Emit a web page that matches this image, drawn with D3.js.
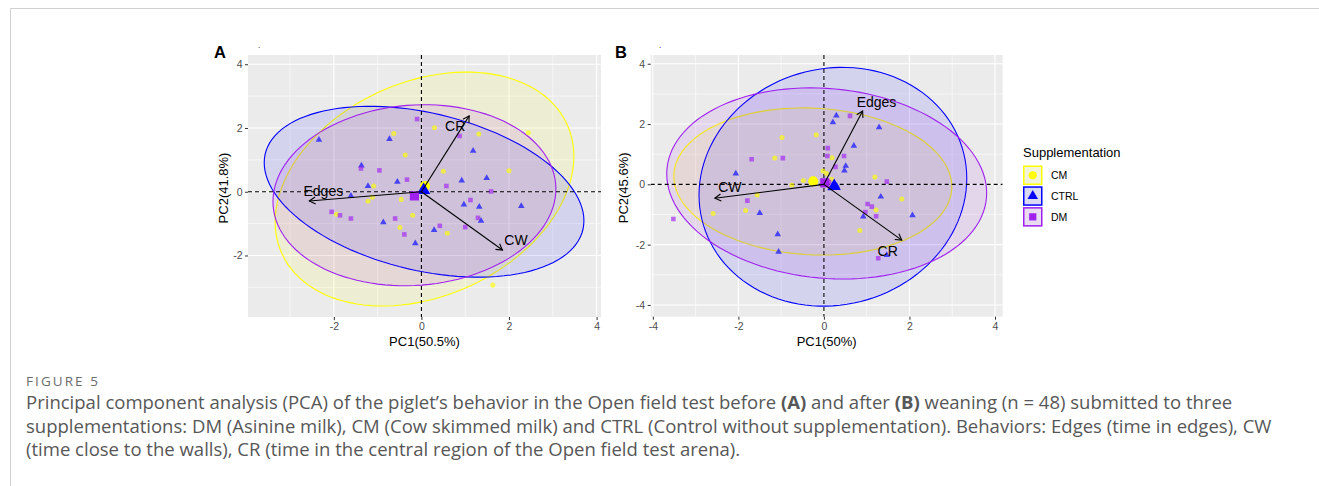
<!DOCTYPE html>
<html>
<head>
<meta charset="utf-8">
<script src="https://cdn.jsdelivr.net/npm/d3@7"></script>
<style>
  body { margin: 0; background: #fff; }
  svg text { font-family: "Liberation Sans", Arial, sans-serif; }
</style>
</head>
<body>
<svg id="fig" width="1319" height="486"></svg>
<script>
// groups in legend order
const groups = ["CM", "CTRL", "DM"];

// panel A (before weaning) scores, [PC1, PC2]
const pointsA_CM = [[-0.63,1.83],[0.30,2.01],[1.31,1.81],[2.44,1.85],[-0.37,1.15],[0.50,0.64],[2.00,0.66],[-1.09,0.18],
  [-1.12,-0.17],[-1.22,-0.30],[-0.46,-0.24],[-1.94,-0.71],[-0.20,-0.74],[-0.49,-1.12],[0.59,-1.30],[1.63,-2.93]];
const pointsA_CTRL = [[-2.34,1.63],[-0.73,1.65],[-1.37,0.82],[-1.22,0.18],[-0.55,0.31],[-1.61,-0.13],[1.18,1.28],[0.92,0.35],
  [1.49,0.43],[0.97,-0.40],[1.32,-0.47],[1.36,-0.91],[2.28,-0.45],[-0.87,-0.96],[0.29,-1.20],[-0.14,-1.62]];
const pointsA_DM = [[-0.10,2.28],[0.87,1.75],[-0.96,0.67],[-0.33,0.38],[-1.38,0.73],[0.57,0.18],[1.59,0.01],[1.12,-0.26],
  [-2.05,-0.63],[-1.86,-0.74],[-1.61,-0.84],[-0.60,-0.84],[-0.39,-1.34],[0.42,-1.07],[1.00,-1.11],[1.29,-0.82]];
const centroidsA = [[0.08,0.18],[0.05,0.05],[-0.16,-0.13]];
// ellipse: [centre x, centre y, half width, half height, correlation]
const ellipsesA = [[0.07,0.085,3.41,3.67,0.28],[0.06,0.0,3.65,2.68,-0.34],[-0.16,-0.11,3.23,2.84,0.07]];
const loadingNamesA = ["Edges", "CR", "CW"];
const loadingsA = [[-2.56,-0.29],[1.09,2.38],[1.85,-1.83]];
const loadingLabelsA = [[-2.24,0.02],[0.77,2.06],[2.16,-1.52]];

// panel B (after weaning)
const pointsB_CM = [[-0.98,1.55],[-0.18,1.64],[-1.15,0.87],[0.19,0.88],[-0.02,0.44],[0.06,0.36],[-0.48,0.13],[-0.75,-0.02],
  [0.18,0.17],[1.19,0.24],[1.82,-0.49],[-1.56,-0.35],[-1.83,-0.87],[-2.59,-0.97],[1.22,-0.85],[0.84,-1.53]];
const pointsB_CTRL = [[0.29,2.28],[0.21,2.06],[1.29,1.89],[0.70,1.28],[0.51,0.61],[0.48,0.46],[-2.06,0.36],[1.33,-0.41],
  [2.07,-1.03],[0.92,-1.07],[-1.50,-0.95],[-1.08,-1.66],[-1.06,-2.24],[1.47,-2.35],[0.16,-0.13],[0.30,-0.05]];
const pointsB_DM = [[0.61,2.27],[0.09,1.20],[0.08,0.94],[0.47,0.94],[0.27,0.58],[-1.69,0.83],[-0.96,0.87],[1.47,0.09],
  [-1.79,-0.54],[-3.52,-1.15],[1.02,-0.65],[1.12,-0.74],[0.97,-0.92],[1.22,-1.06],[1.27,-2.45],[0.12,0.08]];
const centroidsB = [[-0.25,0.10],[0.24,-0.06],[0.02,0.05]];
const ellipsesB = [[-0.26,0.095,3.25,2.44,-0.07],[0.21,-0.08,3.13,3.96,0.07],[0.065,0.03,3.74,3.17,-0.10]];
const loadingNamesB = ["Edges", "CW", "CR"];
const loadingsB = [[0.905,2.43],[-2.55,-0.46],[1.82,-1.85]];
const loadingLabelsB = [[1.23,2.74],[-2.2,-0.1],[1.49,-2.21]];

const ticksA_x = [-2, 0, 2, 4], ticksA_y = [-2, 0, 2, 4];
const ticksB_x = [-4, -2, 0, 2, 4], ticksB_y = [-4, -2, 0, 2, 4];

const colour = { CM: "#FFFF00", CTRL: "#0000FF", DM: "#A020F0" };
const shape = { CM: d3.symbolCircle, CTRL: d3.symbolTriangle, DM: d3.symbolSquare };
const ptSize = { CM: 20, CTRL: 19, DM: 21 };

const svg = d3.select("#fig");

// page frame
svg.append("path").attr("d", "M10.5,486V8.5H1319").attr("fill", "none").attr("stroke", "#d0d0d0").attr("stroke-width", 1);

function drawPanel(opt) {
  const x = d3.scaleLinear().domain(opt.xdom).range([opt.left, opt.right]);
  const y = d3.scaleLinear().domain(opt.ydom).range([opt.bottom, opt.top]);
  const g = svg.append("g");

  g.append("rect").attr("x", opt.left).attr("y", opt.top)
    .attr("width", opt.right - opt.left).attr("height", opt.bottom - opt.top).attr("fill", "#EBEBEB");

  const minorX = d3.range(-3, 4, 2).filter(v => v > opt.xdom[0] && v < opt.xdom[1]);
  const minorY = d3.range(-3, 4, 2).filter(v => v > opt.ydom[0] && v < opt.ydom[1]);
  g.selectAll(".mx").data(minorX).enter().append("line")
    .attr("x1", d => x(d)).attr("x2", d => x(d)).attr("y1", opt.top).attr("y2", opt.bottom)
    .attr("stroke", "#fff").attr("stroke-width", 0.55);
  g.selectAll(".my").data(minorY).enter().append("line")
    .attr("y1", d => y(d)).attr("y2", d => y(d)).attr("x1", opt.left).attr("x2", opt.right)
    .attr("stroke", "#fff").attr("stroke-width", 0.55);
  g.selectAll(".gx").data(opt.xt).enter().append("line")
    .attr("x1", d => x(d)).attr("x2", d => x(d)).attr("y1", opt.top).attr("y2", opt.bottom)
    .attr("stroke", "#fff").attr("stroke-width", 1.1);
  g.selectAll(".gy").data(opt.yt).enter().append("line")
    .attr("y1", d => y(d)).attr("y2", d => y(d)).attr("x1", opt.left).attr("x2", opt.right)
    .attr("stroke", "#fff").attr("stroke-width", 1.1);

  const clipId = "clip" + opt.name;
  svg.append("clipPath").attr("id", clipId).append("rect")
    .attr("x", opt.left).attr("y", opt.top).attr("width", opt.right - opt.left).attr("height", opt.bottom - opt.top);
  const inner = g.append("g").attr("clip-path", "url(#" + clipId + ")");

  // confidence ellipses
  const line = d3.line().x(d => x(d[0])).y(d => y(d[1]));
  opt.ellipses.forEach((e, i) => {
    const [cx, cy, a, b, r] = e;
    const pts = d3.range(0, 361, 3).map(t => {
      const th = t * Math.PI / 180;
      return [cx + a * Math.cos(th), cy + b * (r * Math.cos(th) + Math.sqrt(1 - r * r) * Math.sin(th))];
    });
    inner.append("path").attr("d", line(pts) + "Z")
      .attr("fill", colour[groups[i]]).attr("fill-opacity", 0.1)
      .attr("stroke", colour[groups[i]]).attr("stroke-width", 1.1);
  });

  // reference lines
  inner.append("line").attr("x1", x(0)).attr("x2", x(0)).attr("y1", opt.top).attr("y2", opt.bottom)
    .attr("stroke", "#000").attr("stroke-width", 1.1).attr("stroke-dasharray", "4,3");
  inner.append("line").attr("y1", y(0)).attr("y2", y(0)).attr("x1", opt.left).attr("x2", opt.right)
    .attr("stroke", "#000").attr("stroke-width", 1.1).attr("stroke-dasharray", "4,3");

  // scores
  opt.points.forEach((pts, i) => {
    const grp = groups[i];
    inner.selectAll(".p" + grp).data(pts).enter().append("path")
      .attr("d", d3.symbol().type(shape[grp]).size(ptSize[grp]))
      .attr("transform", d => "translate(" + x(d[0]) + "," + y(d[1]) + ")")
      .attr("fill", colour[grp]).attr("fill-opacity", 0.65);
  });
  opt.centroids.forEach((c, i) => {
    const grp = groups[i];
    inner.append("path")
      .attr("d", d3.symbol().type(shape[grp]).size(ptSize[grp] * 4))
      .attr("transform", "translate(" + x(c[0]) + "," + y(c[1]) + ")")
      .attr("fill", colour[grp]);
  });

  // loading arrows
  opt.loadings.forEach((l, i) => {
    const x0 = x(0), y0 = y(0), x1 = x(l[0]), y1 = y(l[1]);
    const ang = Math.atan2(y1 - y0, x1 - x0), h = 7, sp = Math.PI / 6;
    inner.append("line").attr("x1", x0).attr("y1", y0).attr("x2", x1).attr("y2", y1)
      .attr("stroke", "#000").attr("stroke-width", 1.1);
    inner.append("path")
      .attr("d", "M" + (x1 - h * Math.cos(ang - sp)) + "," + (y1 - h * Math.sin(ang - sp)) +
        "L" + x1 + "," + y1 + "L" + (x1 - h * Math.cos(ang + sp)) + "," + (y1 - h * Math.sin(ang + sp)))
      .attr("fill", "none").attr("stroke", "#000").attr("stroke-width", 1.1);
    inner.append("text").attr("x", x(opt.labels[i][0])).attr("y", y(opt.labels[i][1]))
      .attr("text-anchor", "middle").attr("dy", "0.36em").attr("font-size", 14).attr("fill", "#000")
      .text(opt.names[i]);
  });

  // axes
  const ax = g.append("g").attr("transform", "translate(0," + opt.bottom + ")")
    .call(d3.axisBottom(x).tickValues(opt.xt).tickSize(3).tickPadding(2.5).tickFormat(d3.format("d")));
  const ay = g.append("g").attr("transform", "translate(" + opt.left + ",0)")
    .call(d3.axisLeft(y).tickValues(opt.yt).tickSize(3).tickPadding(2.5).tickFormat(d3.format("d")));
  [ax, ay].forEach(a => {
    a.select(".domain").remove();
    a.selectAll(".tick line").attr("stroke", "#333").attr("stroke-width", 1);
    a.selectAll(".tick text").attr("fill", "#4D4D4D").attr("font-size", 10.5)
      .style("font-family", '"Liberation Sans", Arial, sans-serif');
  });
  ax.selectAll(".tick text").text(d => String(d).replace("\u2212", "-"));
  ay.selectAll(".tick text").text(d => String(d).replace("\u2212", "-"));

  g.append("text").attr("x", (opt.left + opt.right) / 2).attr("y", 346)
    .attr("text-anchor", "middle").attr("font-size", 13).attr("fill", "#000").text(opt.xlab);
  g.append("text").attr("transform", "translate(" + opt.ylabX + "," + ((opt.top + opt.bottom) / 2 + 2) + ") rotate(-90)")
    .attr("text-anchor", "middle").attr("font-size", 13).attr("fill", "#000").text(opt.ylab);

  g.append("text").attr("x", opt.tagX).attr("y", 58.3).attr("font-size", 16.5).attr("font-weight", "bold")
    .attr("fill", "#000").text(opt.name);
  g.append("text").attr("x", opt.tagX + 44).attr("y", 48).attr("font-size", 8).attr("fill", "#000").text(".");
}

drawPanel({
  name: "A", left: 248, right: 601, top: 55, bottom: 317,
  xdom: [-3.96, 4.1], ydom: [-3.93, 4.29], xt: ticksA_x, yt: ticksA_y,
  ellipses: ellipsesA, points: [pointsA_CM, pointsA_CTRL, pointsA_DM], centroids: centroidsA,
  loadings: loadingsA, labels: loadingLabelsA, names: loadingNamesA,
  xlab: "PC1(50.5%)", ylab: "PC2(41.8%)", ylabX: 228, tagX: 214
});
drawPanel({
  name: "B", left: 650.7, right: 1002.7, top: 55, bottom: 316.7,
  xdom: [-4.05, 4.18], ydom: [-4.39, 4.29], xt: ticksB_x, yt: ticksB_y,
  ellipses: ellipsesB, points: [pointsB_CM, pointsB_CTRL, pointsB_DM], centroids: centroidsB,
  loadings: loadingsB, labels: loadingLabelsB, names: loadingNamesB,
  xlab: "PC1(50%)", ylab: "PC2(45.6%)", ylabX: 628, tagX: 615
});

// legend
const leg = svg.append("g").attr("transform", "translate(1023,0)");
leg.append("text").attr("x", 0).attr("y", 157).attr("font-size", 13).attr("fill", "#000").text("Supplementation");
groups.forEach((grp, i) => {
  const ky = 165.5 + i * 20.8;
  leg.append("rect").attr("x", 0).attr("y", ky).attr("width", 19.5).attr("height", 19.5).attr("fill", "#F2F2F2");
  leg.append("rect").attr("x", 0.75).attr("y", ky + 0.75).attr("width", 18).attr("height", 18)
    .attr("fill", colour[grp]).attr("fill-opacity", 0.1).attr("stroke", colour[grp]).attr("stroke-width", 1.5);
  leg.append("path").attr("d", d3.symbol().type(shape[grp]).size(grp === "CTRL" ? 48 : 52))
    .attr("transform", "translate(9.75," + (ky + 9.75) + ")").attr("fill", colour[grp]);
  leg.append("text").attr("x", 28).attr("y", ky + 9.75).attr("dy", "0.36em").attr("font-size", 10.5)
    .attr("fill", "#000").text(grp);
});

// caption
const cap = svg.append("g");
cap.append("text").attr("x", 26).attr("y", 386).attr("font-size", 13.5).attr("fill", "#6b6b6b")
  .attr("textLength", 72).attr("lengthAdjust", "spacing")
  .style("font-family", '"Open Sans", sans-serif').style("font-weight", 500).text("FIGURE 5");
const capLines = [
  [["Principal component analysis (PCA) of the piglet\u2019s behavior in the Open field test before ", 0], ["(A)", 1], [" and after ", 0], ["(B)", 1], [" weaning (n = 48) submitted to three", 0]],
  [["supplementations: DM (Asinine milk), CM (Cow skimmed milk) and CTRL (Control without supplementation). Behaviors: Edges (time in edges), CW", 0]],
  [["(time close to the walls), CR (time in the central region of the Open field test arena).", 0]]
];
const capY = [409.3, 432.5, 455.7];
const capNodes = capLines.map((ln, i) => {
  const t = cap.append("text").attr("x", 26).attr("y", capY[i]).attr("font-size", 15).attr("fill", "#575757")
    .style("font-family", '"Open Sans", sans-serif');
  ln.forEach(s => t.append("tspan").attr("font-weight", s[1] ? "bold" : "normal").text(s[0]));
  return t;
});
// fit the caption size to the first line's width
const w0 = capNodes[0].node().getComputedTextLength();
const fs = 15 * (1233 - 26) / w0;
capNodes.forEach(t => t.attr("font-size", fs));
</script>
</body>
</html>
